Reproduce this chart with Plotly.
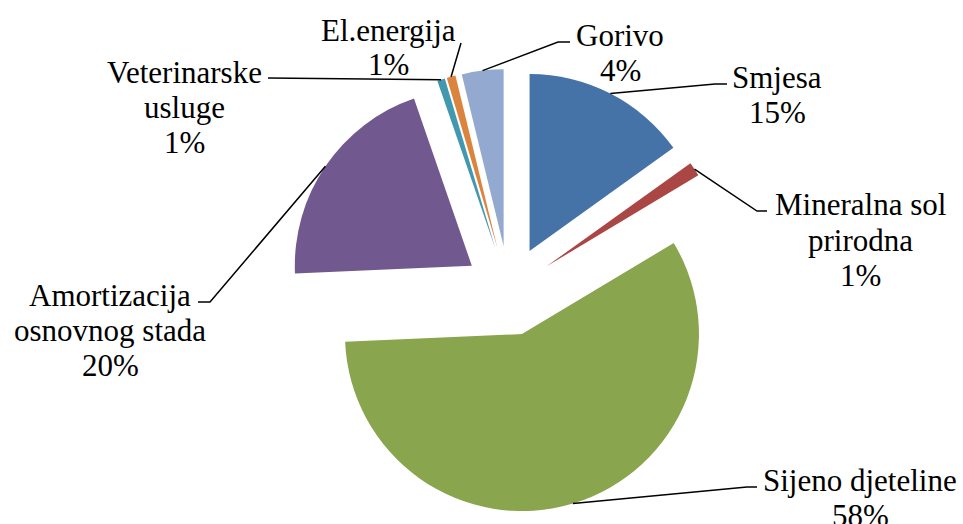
import math
import plotly.graph_objects as go

# ---- data ----
categories = ["Smjesa", "Mineralna sol prirodna", "Sijeno djeteline",
              "Amortizacija osnovnog stada", "Veterinarske usluge",
              "El.energija", "Gorivo"]
values = [15.1, 1.3, 57.9, 20.4, 0.7, 0.8, 3.8]
label_lines = [["Smjesa"], ["Mineralna sol", "prirodna"], ["Sijeno djeteline"],
               ["Amortizacija", "osnovnog stada"], ["Veterinarske", "usluge"],
               ["El.energija"], ["Gorivo"]]
colors = ["#4572A7", "#AA4643", "#89A54E", "#71588F", "#4198AF", "#DB843D", "#93A9CF"]

# ---- layout (pixels) ----
W, H = 963, 524
CX, CY, R, PULL = 509, 291, 177, 0.254
SERIF = "Times New Roman, Liberation Serif, DejaVu Serif, serif"
FONT = dict(family=SERIF, size=31, color="black")
LINE_GAP = 35
# per label: text centre x, first-line y, leader elbow, leader end
label_layout = [
    dict(x=777, y=77, elbow=(715, 84), end=(727, 84)),
    dict(x=860, y=205, elbow=(757, 211), end=(767, 211)),
    dict(x=860, y=480, elbow=(747, 487), end=(757, 487)),
    dict(x=110, y=295, elbow=(210, 302), end=(198, 302)),
    dict(x=184, y=72, elbow=(268, 78), end=(268, 78)),
    dict(x=388, y=30, elbow=(461, 43), end=(461, 43)),
    dict(x=620, y=35, elbow=(558, 42), end=(570, 42)),
]

def px(x):
    return x / W

def py(y):
    return 1 - y / H

ext = R * (1 + PULL)
fig = go.Figure(go.Pie(
    labels=categories, values=values, sort=False, direction="clockwise",
    rotation=0, pull=[PULL] * len(values),
    marker=dict(colors=colors, line=dict(width=0)),
    textinfo="none", hoverinfo="label+percent", showlegend=False,
    domain=dict(x=[px(CX - 300), px(CX + 300)], y=[py(CY + ext), py(CY - ext)]),
))

total = sum(values)
cum = 0.0
shapes, annotations = [], []
for v, lines, lay in zip(values, label_lines, label_layout):
    mid = (cum + v / 2) / total * 2 * math.pi
    cum += v
    sx = CX + ext * math.sin(mid)
    sy = CY - ext * math.cos(mid)
    ex, ey = lay["elbow"]
    fx, fy = lay["end"]
    path = f"M {px(sx)},{py(sy)} L {px(ex)},{py(ey)} L {px(fx)},{py(fy)}"
    shapes.append(dict(type="path", xref="paper", yref="paper", path=path,
                       line=dict(color="black", width=1.5)))
    pct = f"{round(v / total * 100)}%"
    for i, t in enumerate(lines + [pct]):
        annotations.append(dict(text=t, x=px(lay["x"]), y=py(lay["y"] + i * LINE_GAP),
                                xref="paper", yref="paper", xanchor="center",
                                yanchor="middle", showarrow=False, font=FONT))

fig.update_layout(width=W, height=H, margin=dict(l=0, r=0, t=0, b=0),
                  paper_bgcolor="white", plot_bgcolor="white",
                  font=dict(family=SERIF),
                  shapes=shapes, annotations=annotations)
fig.write_html("out.html", config={"displayModeBar": False},
               post_script="document.body.style.margin='0';")
